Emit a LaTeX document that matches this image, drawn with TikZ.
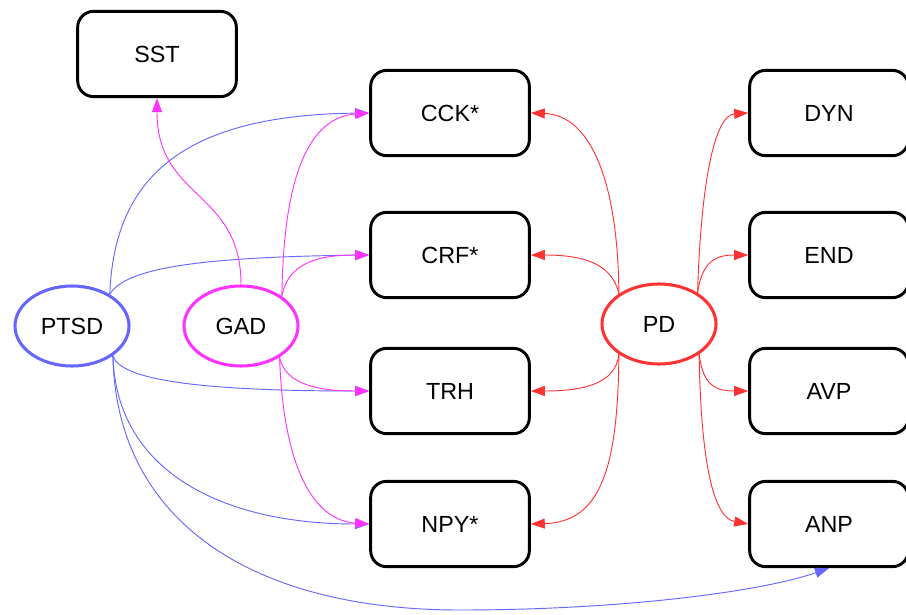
\documentclass[tikz,border=0pt]{standalone}
\usepackage{fontspec}
\setmainfont{Liberation Sans}
\usetikzlibrary{arrows.meta,shapes.geometric}
\definecolor{cblue}{HTML}{6666FF}
\definecolor{cmag}{HTML}{FF33FF}
\definecolor{cred}{HTML}{FF3333}
\tikzset{
  box/.style={draw=black, line width=2.2pt, rounded corners=12pt, minimum width=119pt, minimum height=64pt, font=\fontsize{17.5}{20}\selectfont, inner sep=0pt},
  disease/.style={ellipse, line width=2.3pt, minimum width=85.5pt, minimum height=60pt, font=\fontsize{17.5}{20}\selectfont, inner sep=0pt},
  edge/.style={line width=0.7pt, -{Triangle[length=10.5pt,width=7.5pt]}},
  bedge/.style={edge, cblue},
  medge/.style={edge, cmag},
  redge/.style={edge, cred}
}
\begin{document}
\begin{tikzpicture}[x=0.75pt,y=-0.75pt]
\useasboundingbox (0,0) rectangle (906,614);
% nodes
\node[box] (SST) at (157,54) {SST};
\node[box] (CCK) at (450,113) {CCK*};
\node[box] (CRF) at (450,255) {CRF*};
\node[box] (TRH) at (450,391) {TRH};
\node[box] (NPY) at (450,524) {NPY*};
\node[box] (DYN) at (829,113) {DYN};
\node[box] (END) at (829,255) {END};
\node[box] (AVP) at (829,391) {AVP};
\node[box] (ANP) at (829,524) {ANP};
\node[disease, draw=cblue] (PTSD) at (72,326) {PTSD};
\node[disease, draw=cmag] (GAD) at (241,326) {GAD};
\node[disease, draw=cred] (PD) at (659,324) {PD};
% PTSD edges
\draw[bedge] (PTSD.40) .. controls (114,180) and (180,115) .. (CCK.west);
\draw[bedge] (PTSD.40) .. controls (125,268) and (200,257) .. (CRF.west);
\draw[bedge] (PTSD.324) .. controls (120,380) and (200,391) .. (TRH.west);
\draw[bedge] (PTSD.324) .. controls (116,470) and (220,524) .. (NPY.west);
\draw[bedge] (PTSD.324) .. controls (116,520) and (250,610) .. (460,610) .. controls (620,610) and (760,592) .. (ANP.south);
% GAD edges
\draw[medge] (GAD.north) .. controls (241,190) and (157,200) .. (SST.south);
\draw[medge] (GAD.36) .. controls (283,200) and (300,118) .. (CCK.west);
\draw[medge] (GAD.36) .. controls (288,262) and (320,255) .. (CRF.west);
\draw[medge] (GAD.321) .. controls (285,385) and (320,391) .. (TRH.west);
\draw[medge] (GAD.321) .. controls (283,460) and (310,520) .. (NPY.west);
% PD edges
\draw[redge] (PD.143) .. controls (618,180) and (590,115) .. (CCK.east);
\draw[redge] (PD.143) .. controls (612,262) and (580,255) .. (CRF.east);
\draw[redge] (PD.217) .. controls (616,385) and (580,391) .. (TRH.east);
\draw[redge] (PD.217) .. controls (618,470) and (600,522) .. (NPY.east);
\draw[redge] (PD.39) .. controls (701,180) and (715,115) .. (DYN.west);
\draw[redge] (PD.39) .. controls (702,262) and (715,255) .. (END.west);
\draw[redge] (PD.323) .. controls (703,385) and (715,391) .. (AVP.west);
\draw[redge] (PD.323) .. controls (701,470) and (715,518) .. (ANP.west);
\end{tikzpicture}
\end{document}
